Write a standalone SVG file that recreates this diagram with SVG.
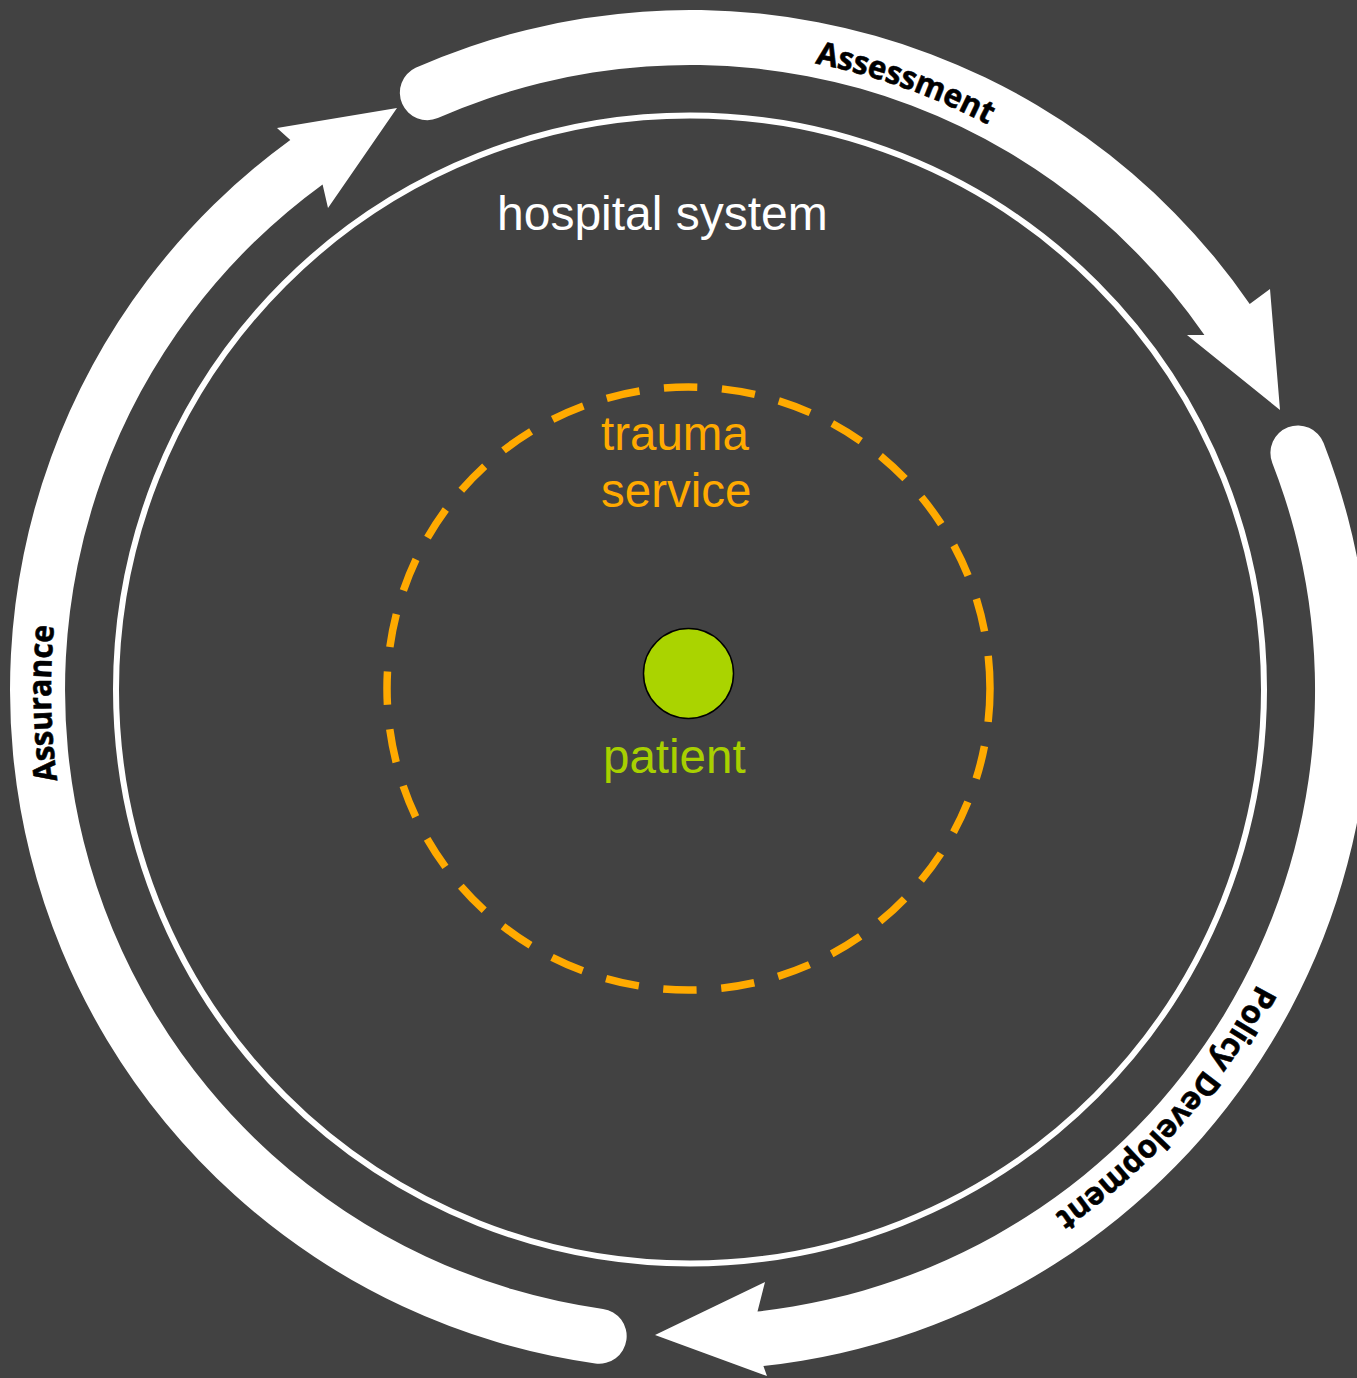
<svg xmlns="http://www.w3.org/2000/svg" width="1357" height="1378" viewBox="0 0 1357 1378">
<defs>
<style>
.bg{fill:#424242}
.arrow{fill:#ffffff}
.lbl{font-family:"Open Sans","Noto Sans","DejaVu Sans",sans-serif;font-weight:bold;font-size:32px;fill:#000000;stroke:#000000;stroke-width:0.6px}
.big{font-family:"Liberation Sans",Arial,sans-serif;font-size:47.5px}
</style>
<path id="tpAssessment" d="M 574.1 61.6 A 639 639 0 0 1 1176.1 275.3"/>
<path id="tpPolicy" d="M 1316.6 815.2 A 639 639 0 0 1 894.9 1295.3"/>
<path id="tpAssurance" d="M 143.4 1021.0 A 639 639 0 0 1 130.0 382.1"/>
</defs>
<rect class="bg" x="0" y="0" width="1357" height="1378"/>
<g id="connectors">
<g id="arrow-assessment">
<path class="arrow" d="M 415.6 67.8 A 680 680 0 0 1 1249.7 303.9 L 1270 289 L 1280 410 L 1187 335 L 1204.4 335.1 A 625 625 0 0 0 437.8 118.1 A 27.5 27.5 0 0 1 415.6 67.8 Z"/>
<text class="lbl"><textPath href="#tpAssessment" startOffset="50%" text-anchor="middle" textLength="184" lengthAdjust="spacingAndGlyphs">Assessment</textPath></text>
</g>
<g id="arrow-policy">
<path class="arrow" d="M 1323.6 443.0 A 680 680 0 0 1 763.4 1366.1 L 767 1376 L 655 1335 L 765 1282 L 757.5 1311.4 A 625 625 0 0 0 1272.3 462.9 A 27.5 27.5 0 0 1 1323.6 443.0 Z"/>
<text class="lbl"><textPath href="#tpPolicy" startOffset="50%" text-anchor="middle" textLength="310" lengthAdjust="spacingAndGlyphs">Policy Development</textPath></text>
</g>
<g id="arrow-assurance">
<path class="arrow" d="M 595.3 1363.4 A 680 680 0 0 1 290.3 139.9 L 277 128 L 397 108 L 328 208 L 322.6 184.4 A 625 625 0 0 0 603.0 1308.9 A 27.5 27.5 0 0 1 595.3 1363.4 Z"/>
<text class="lbl"><textPath href="#tpAssurance" startOffset="50%" text-anchor="middle" textLength="155" lengthAdjust="spacingAndGlyphs">Assurance</textPath></text>
</g>
</g>
<g id="hospital-system">
<circle cx="690" cy="689.5" r="574" fill="none" stroke="#ffffff" stroke-width="6"/>
<text class="big" x="497" y="230" fill="#ffffff" style="font-size:48px">hospital system</text>
</g>
<g id="trauma-service">
<circle cx="688.5" cy="688.5" r="301.5" fill="none" stroke="#ffaa00" stroke-width="7.5" stroke-dasharray="33.5 24.65"/>
<text class="big" x="601" y="450" fill="#ffaa00">trauma</text>
<text class="big" x="601" y="507" fill="#ffaa00">service</text>
</g>
<g id="patient">
<circle cx="688.5" cy="673.5" r="45" fill="#aad400" stroke="#000000" stroke-width="1.5"/>
<text class="big" x="603" y="773" fill="#a8d000">patient</text>
</g>
</svg>
